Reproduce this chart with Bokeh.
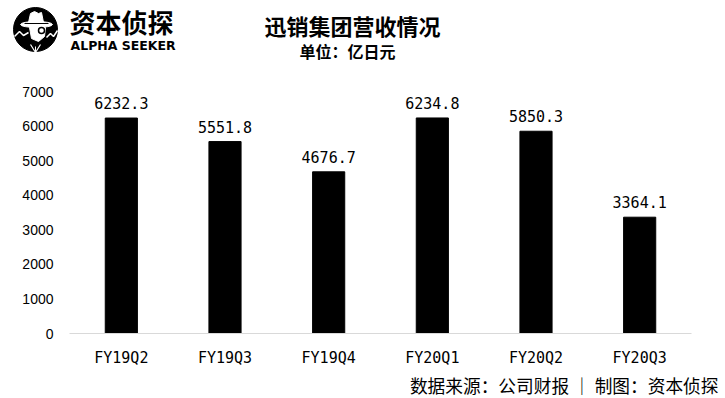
from bokeh.plotting import figure
from bokeh.layouts import column
from bokeh.models import ColumnDataSource, LabelSet, FactorRange, Range1d
from bokeh.core.properties import value
from bokeh.embed import file_html
from bokeh.resources import INLINE

categories = ["FY19Q2", "FY19Q3", "FY19Q4", "FY20Q1", "FY20Q2", "FY20Q3"]
revenue = [6232.3, 5551.8, 4676.7, 6234.8, 5850.3, 3364.1]
y_ticks = [0, 1000, 2000, 3000, 4000, 5000, 6000, 7000]
title_text = "迅销集团营收情况"
subtitle_text = "单位：亿日元"
footer_text = "数据来源：公司财报 ｜ 制图：资本侦探"
brand_cn = "资本侦探"
brand_en = "ALPHA SEEKER"

W = 725
CJK = value("Noto Sans CJK SC")


def no_align(f):
    try:
        f.frame_align = False
    except Exception:
        pass


def blank(height):
    f = figure(width=W, height=height, x_range=Range1d(0, W), y_range=Range1d(height, 0),
               output_backend="svg", toolbar_location=None,
               min_border=0, min_border_left=0, min_border_right=0,
               min_border_top=0, min_border_bottom=0)
    f.axis.visible = False
    f.grid.visible = False
    f.outline_line_color = None
    f.background_fill_color = "white"
    f.border_fill_color = "white"
    no_align(f)
    return f


# ---------- header ----------
h = blank(70)
# logo
h.circle(x=35, y=29, radius=22, color="black")
h.patch(x=[28, 30, 34, 38, 41, 43], y=[22, 13, 11, 13, 12, 22], color="white")
h.ellipse(x=36, y=24, width=32, height=6, color="white")
h.line(x=[24, 48], y=[23, 23], color="black", line_width=1)
h.patch(x=[29, 45, 44, 38, 31], y=[27, 27, 36, 41, 38], color="white")
h.circle(x=41, y=30, radius=3, fill_color="white", line_color="black", line_width=1.5)
h.line(x=[14, 19, 23, 28], y=[36, 31, 35, 32], color="white", line_width=1.5)
h.line(x=[46, 50, 53, 57], y=[37, 33, 36, 30], color="white", line_width=1.5)
h.line(x=[30, 35, 40], y=[44, 52, 44], color="white", line_width=1.2)
h.line(x=[35, 35], y=[46, 56], color="white", line_width=1)
# brand text
h.text(x=[69], y=[21], text=[brand_cn], text_font=CJK, text_font_style="bold",
       text_font_size="26px", text_baseline="middle", text_align="left", text_color="black")
h.text(x=[70], y=[45], text=[brand_en], text_font=value("DejaVu Sans"), text_font_style="bold",
       text_font_size="12.5px", text_baseline="middle", text_align="left", text_color="black")
# title / subtitle
h.text(x=[352], y=[24], text=[title_text], text_font=CJK, text_font_style="bold",
       text_font_size="22px", text_baseline="middle", text_align="center", text_color="black")
h.text(x=[347], y=[50], text=[subtitle_text], text_font=CJK, text_font_style="bold",
       text_font_size="16px", text_baseline="middle", text_align="center", text_color="black")

# ---------- main chart ----------
src = ColumnDataSource(dict(cat=categories, val=revenue,
                            lbl=[f"{v:.1f}" for v in revenue]))

p = figure(x_range=FactorRange(*categories), y_range=Range1d(0, 7000),
           width=W, height=299, output_backend="svg", toolbar_location=None,
           min_border_left=69, min_border_right=34, min_border_top=21, min_border_bottom=36)
p.outline_line_color = None
p.background_fill_color = "white"
p.border_fill_color = "white"
p.xgrid.grid_line_color = None
p.ygrid.grid_line_color = None
no_align(p)

p.vbar(x="cat", top="val", width=0.31, source=src, color="black")

p.yaxis.ticker = y_ticks
p.yaxis.axis_line_color = None
p.yaxis.major_tick_line_color = None
p.yaxis.minor_tick_line_color = None
p.yaxis.major_label_standoff = 10
p.yaxis.major_label_text_font = "Liberation Sans"
p.yaxis.major_label_text_font_size = "14px"
p.yaxis.major_label_text_color = "black"

p.xaxis.axis_line_color = "#d9d9d9"
p.xaxis.major_tick_line_color = None
p.xaxis.minor_tick_line_color = None
p.xaxis.major_label_standoff = 9
p.xaxis.major_label_text_font = "DejaVu Sans Mono"
p.xaxis.major_label_text_font_size = "15px"
p.xaxis.major_label_text_color = "black"

labels = LabelSet(x="cat", y="val", text="lbl", source=src, text_align="center",
                  text_baseline="bottom", y_offset=9, text_font=value("DejaVu Sans Mono"),
                  text_font_size=value("15px"), text_color="black")
p.add_layout(labels)

# ---------- footer ----------
ft = blank(29)
ft.text(x=[718], y=[15], text=[footer_text], text_font=CJK,
        text_font_size="17.7px", text_baseline="middle", text_align="right", text_color="black")

layout = column(h, p, ft, spacing=0)
open("out.html", "w").write(file_html(layout, INLINE))
